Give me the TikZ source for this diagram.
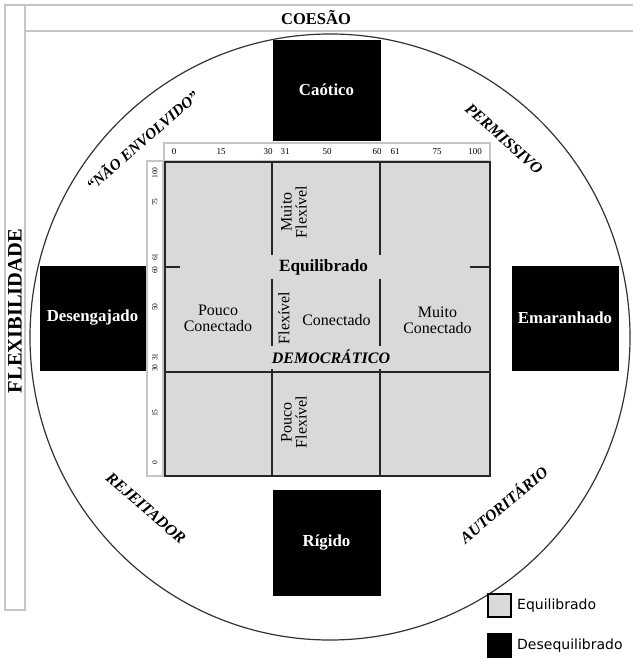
\documentclass[tikz,border=0pt]{standalone}
\usepackage{fontspec}
\setmainfont{Liberation Serif}
\newfontfamily\legendfont{DejaVu Sans}
\definecolor{framegray}{HTML}{C6C6C6}
\definecolor{cellgray}{HTML}{D9D9D9}
\begin{document}
\begin{tikzpicture}[x=1pt,y=-1pt,
  frameline/.style={draw=framegray,line width=1.5pt},
  gridline/.style={draw=black!85,line width=1.4pt},
  blackbox/.style={fill=black,draw=black,inner sep=0pt,text=white,
    font=\fontsize{16.8}{18}\selectfont\bfseries},
  celltext/.style={font=\fontsize{16}{16}\selectfont,align=center,inner sep=0pt},
  rottext/.style={font=\fontsize{16}{15}\selectfont,align=center,inner sep=0pt,rotate=90},
  arclabel/.style={font=\fontsize{16}{18}\selectfont\bfseries\itshape,inner sep=0pt},
  toptick/.style={font=\fontsize{9}{9}\selectfont,inner sep=0pt},
  sidetick/.style={font=\fontsize{7.5}{8}\selectfont,inner sep=0pt,rotate=90},
  legendsq/.style={minimum size=23pt,inner sep=0pt,draw=black,line width=2pt},
  legendtext/.style={font=\legendfont\fontsize{14}{16}\selectfont,anchor=west,inner sep=0pt}]
\useasboundingbox (0,0) rectangle (633,658);
\fill[white] (0,0) rectangle (633,658);

% outer frame: header strip and side strip
\draw[frameline] (633,5) -- (5,5) -- (5,610) -- (25,610) -- (25,5);
\draw[frameline] (25,31) -- (633,31);
\node[font=\fontsize{16.5}{18}\selectfont\bfseries,inner sep=0pt] (coesao) at (316,17) {COESÃO};
\node[font=\fontsize{20.5}{22}\selectfont\bfseries,inner sep=0pt,rotate=90] (flex) at (15,311) {FLEXIBILIDADE};

% the circle
\draw[black!80,line width=1.2pt] (330,337) ellipse [x radius=300pt, y radius=303pt];

% labels along the circle
\node[arclabel,font=\fontsize{15.5}{18}\selectfont\bfseries\itshape,rotate=41] (naoenv) at (142,140) {“NÃO ENVOLVIDO”};
\node[arclabel,rotate=-42] (perm) at (504,139) {PERMISSIVO};
\node[arclabel,rotate=-41] (rejeit) at (146,508) {REJEITADOR};
\node[arclabel,rotate=40] (autor) at (503,504) {AUTORITÁRIO};

% unbalanced types
\node[blackbox,minimum width=107pt,minimum height=100pt] (caotico) at (326.5,90) {Caótico};
\node[blackbox,minimum width=105pt,minimum height=104pt] (deseng) at (92.5,318) {Desengajado};
\node[blackbox,minimum width=106pt,minimum height=104pt] (emar) at (565,318) {Emaranhado};
\node[blackbox,minimum width=107pt,minimum height=105pt] (rigido) at (326.5,542.5) {Rígido};

% scale strips
\draw[draw=framegray,line width=1.2pt,fill=white] (164,143) rectangle (490,161);
\draw[draw=framegray,line width=1.2pt,fill=white] (147,161) rectangle (163,476);
\foreach \v/\x in {0/174,15/221,30/268,31/285,50/327,60/377,61/395,75/437,100/475}
  \node[toptick] (tx\v) at (\x,152) {\v};
\foreach \v/\y in {100/173,75/202,61/257,60/270,50/307,31/357,30/368,15/413,0/463}
  \node[sidetick] (ty\v) at (155,\y) {\v};

% balanced region
\draw[gridline,fill=cellgray] (165,162) rectangle (490,476);
\draw[gridline] (272,162) -- (272,255) (272,279) -- (272,346) (272,369) -- (272,476);
\draw[gridline] (380,162) -- (380,255) (380,279) -- (380,346) (380,369) -- (380,476);
\draw[gridline] (165,267) -- (180,267) (470,267) -- (490,267);
\draw[gridline] (165,372) -- (490,372);

% cell texts
\node[rottext] (muitoflex) at (294,212) {Muito\\Flexível};
\node[font=\fontsize{17.2}{18}\selectfont\bfseries,inner sep=0pt] (equil) at (323.5,267) {Equilibrado};
\node[rottext] (flexivel) at (284,318) {Flexível};
\node[celltext] (pouccon) at (218,318) {Pouco\\Conectado};
\node[celltext] (conect) at (336.5,320) {Conectado};
\node[celltext] (muitocon) at (437.5,320) {Muito\\Conectado};
\node[font=\fontsize{16}{18}\selectfont\bfseries\itshape,inner sep=0pt] (democ) at (331,357) {DEMOCRÁTICO};
\node[rottext] (poucoflex) at (294,422) {Pouco\\Flexível};

% legend
\node[legendsq,fill=cellgray] (lgeq) at (499.5,605) {};
\node[legendtext] (lgeqtxt) at (517,606) {Equilibrado};
\node[legendsq,fill=black] (lgdes) at (499.5,645) {};
\node[legendtext] (lgdestxt) at (517,646) {Desequilibrado};
\end{tikzpicture}
\end{document}
